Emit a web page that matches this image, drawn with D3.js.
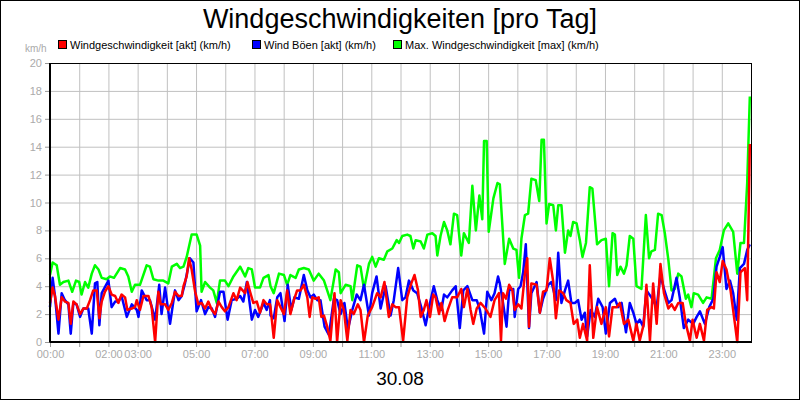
<!DOCTYPE html>
<html><head><meta charset="utf-8">
<script src="https://cdn.jsdelivr.net/npm/d3@7"></script>
<style>body{margin:0;background:#fff}svg{display:block;font-family:"Liberation Sans",Arial,sans-serif}</style>
</head><body><div id="chart"></div>
<script>
// [Stunde, km/h]
var gruen = [[0,4.8],[0.09,5.7],[0.23,5.5],[0.34,4.1],[0.46,4.3],[0.63,4.4],[0.76,3.6],[0.89,4.4],[1.00,4.3],[1.08,3.4],[1.20,4.3],[1.31,3.9],[1.43,4.9],[1.54,5.5],[1.66,5.2],[1.77,4.6],[1.94,4.5],[2.05,4.7],[2.19,4.6],[2.40,5.3],[2.57,5.2],[2.68,4.7],[2.80,3.6],[2.91,4.1],[3.08,4.1],[3.31,5.5],[3.42,5.4],[3.54,4.5],[3.71,4.4],[3.88,4.4],[4.05,4.2],[4.17,5.4],[4.34,5.6],[4.45,5.3],[4.57,5.4],[4.68,6.1],[4.85,7.7],[5.02,7.7],[5.14,6.9],[5.19,3.6],[5.31,4.3],[5.48,3.9],[5.59,3.7],[5.71,2.8],[5.82,4.4],[5.99,4.4],[6.11,4.0],[6.28,4.7],[6.51,5.4],[6.68,4.7],[6.79,5.3],[6.91,5.2],[7.02,3.9],[7.19,3.9],[7.31,4.6],[7.48,4.8],
  [7.55,4.0],[7.66,3.5],[7.84,4.9],[8.01,4.8],[8.12,4.1],[8.23,4.8],[8.41,4.6],[8.52,5.2],[8.69,5.3],[8.86,5.2],[9.03,4.4],[9.20,4.9],[9.38,4.4],[9.60,3.0],[9.78,5.2],[9.89,5.0],[9.95,3.5],[10.12,4.1],[10.29,4.0],[10.35,3.0],[10.52,5.5],[10.63,5.4],[10.75,3.8],[10.92,5.6],[11.03,6.1],[11.15,5.4],[11.26,6.0],[11.43,5.9],[11.55,6.5],[11.72,6.7],[11.87,7.3],[11.95,7.1],[12.06,7.6],[12.23,7.7],[12.34,7.6],[12.44,6.7],[12.52,7.3],[12.69,7.2],[12.80,6.7],[12.92,7.7],[13.09,7.8],[13.20,7.6],[13.26,6.2],[13.37,7.6],[13.49,8.6],[13.60,8.0],[13.71,7.0],[13.83,9.2],[13.94,9.1],[14.08,6.2],[14.17,7.8],[14.34,7.1],[14.46,11.2],[14.58,8.0],[14.70,10.5],[14.80,8.8],[14.86,14.4],[14.95,14.4],[15.02,7.9],[15.18,10.3],[15.32,11.4],
  [15.40,11.3],[15.57,5.6],[15.72,7.4],[15.86,6.7],[15.97,6.6],[16.06,4.6],[16.14,7.4],[16.26,9.1],[16.37,9.2],[16.48,11.7],[16.63,11.6],[16.75,10.1],[16.83,14.5],[16.91,14.5],[17.00,8.5],[17.09,9.9],[17.23,9.8],[17.32,8.0],[17.40,9.8],[17.51,9.8],[17.63,6.4],[17.74,8.0],[17.82,7.6],[17.91,8.6],[18.03,8.5],[18.14,7.3],[18.23,6.1],[18.35,7.1],[18.48,11.1],[18.57,11.0],[18.73,7.0],[18.88,7.3],[19.03,7.4],[19.14,4.0],[19.26,7.8],[19.34,7.7],[19.42,4.8],[19.53,5.4],[19.65,4.9],[19.74,5.5],[19.85,7.6],[19.97,7.4],[20.08,4.0],[20.25,3.8],[20.40,9.1],[20.51,6.0],[20.59,6.5],[20.71,6.6],[20.82,9.2],[20.94,9.1],[21.05,7.8],[21.17,5.9],[21.28,3.7],[21.39,3.8],[21.51,4.9],[21.62,4.7],[21.77,3.1],[21.85,3.4],[21.96,2.5],[22.04,3.5],[22.19,3.4],[22.36,2.8],[22.48,3.2],[22.65,3.1],[22.80,6.0],[22.93,6.6],[23.07,8.0],[23.22,8.5],[23.39,7.9],[23.53,4.9],[23.64,7.1],[23.76,7.1],[23.87,11.4],[23.96,17.6]];

var blau = [[0,2.5],[0.09,4.6],[0.17,3.3],[0.29,0.6],[0.40,3.5],[0.51,3.0],[0.63,2.7],[0.71,0.6],[0.80,2.8],[0.91,2.7],[1.03,1.8],[1.14,2.4],[1.31,2.4],[1.43,0.6],[1.54,4.2],[1.62,4.3],[1.69,1.2],[1.77,3.5],[2.00,4.4],[2.11,2.5],[2.23,2.9],[2.34,2.9],[2.45,3.3],[2.63,1.8],[2.80,2.7],[2.97,2.3],[3.03,1.8],[3.14,3.7],[3.31,3.0],[3.42,3.0],[3.60,1.6],[3.74,4.1],[3.82,2.0],[3.94,3.9],[4.11,1.3],[4.28,3.7],[4.40,3.0],[4.51,3.3],[4.62,4.2],[4.79,6.0],[4.91,5.7],[5.02,2.2],[5.17,3.0],[5.31,2.0],[5.42,2.5],[5.54,2.4],[5.65,1.8],[5.82,3.6],[5.94,3.6],[6.08,1.6],[6.22,3.0],[6.39,3.1],[6.51,3.3],[6.62,2.9],[6.74,4.3],[6.91,1.6],[7.02,2.3],[7.13,1.8],[7.31,2.8],[7.42,2.3],[7.53,3.0],
  [7.55,1.9],[7.66,1.7],[7.78,3.2],[7.89,3.5],[8.03,1.5],[8.14,4.1],[8.26,2.3],[8.37,3.2],[8.52,3.1],[8.69,4.8],[8.81,3.7],[8.92,3.2],[9.03,3.4],[9.15,3.0],[9.26,3.0],[9.40,1.1],[9.55,0.5],[9.72,3.1],[9.83,3.0],[9.95,2.0],[10.08,2.8],[10.20,0.9],[10.35,2.3],[10.50,3.4],[10.63,3.0],[10.75,4.1],[10.92,1.9],[11.03,3.5],[11.18,4.7],[11.32,2.4],[11.49,4.0],[11.66,1.9],[11.77,3.0],[11.92,5.3],[12.06,3.0],[12.17,3.2],[12.29,4.4],[12.44,3.7],[12.57,3.5],[12.71,2.5],[12.86,1.2],[13.01,2.8],[13.14,4.0],[13.26,3.0],[13.40,2.3],[13.49,3.4],[13.60,3.2],[13.77,3.7],[13.89,4.0],[14.03,1.0],[14.15,3.7],[14.29,4.0],[14.46,3.0],[14.61,3.0],[14.72,2.3],[14.86,0.6],[14.97,3.6],[15.11,3.0],[15.22,3.5],[15.34,4.7],[15.40,4.2],
  [15.51,2.8],[15.63,1.1],[15.72,3.7],[15.86,3.8],[15.91,1.8],[16.03,3.8],[16.11,4.0],[16.20,5.0],[16.29,7.0],[16.40,1.0],[16.48,3.5],[16.66,4.3],[16.77,2.1],[16.88,3.1],[17.06,4.1],[17.17,4.3],[17.32,3.0],[17.40,6.4],[17.51,2.8],[17.63,3.7],[17.74,4.4],[17.85,2.8],[17.97,2.8],[18.08,3.0],[18.20,1.6],[18.31,2.1],[18.39,0.4],[18.51,2.3],[18.65,1.8],[18.77,3.1],[18.92,2.5],[19.03,0.6],[19.17,2.8],[19.34,3.1],[19.45,2.5],[19.57,2.8],[19.72,0.7],[19.85,2.8],[19.97,2.1],[20.08,1.3],[20.19,1.6],[20.31,1.1],[20.42,3.7],[20.59,3.2],[20.77,2.5],[20.90,4.8],[21.02,3.8],[21.17,2.8],[21.28,3.0],[21.45,4.6],[21.56,3.2],[21.70,1.0],[21.85,1.6],[22.02,1.3],[22.14,1.8],[22.25,2.2],[22.42,1.3],[22.57,2.5],[22.71,3.1],[22.82,5.4],[22.93,6.1],[23.03,6.8],[23.16,3.8],[23.28,4.4],[23.39,3.5],[23.51,1.6],[23.62,5.3],[23.76,5.6],[23.87,6.6],[23.96,7.0]];

var rot = [[0,2.8],[0.09,3.9],[0.17,3.3],[0.29,1.6],[0.40,3.2],[0.51,2.9],[0.63,2.8],[0.71,1.3],[0.80,2.9],[0.91,2.7],[1.03,2.0],[1.14,2.4],[1.26,2.4],[1.37,3.0],[1.48,3.7],[1.60,3.7],[1.69,1.7],[1.77,2.9],[1.88,3.6],[2.00,4.0],[2.11,3.4],[2.23,3.3],[2.34,2.8],[2.45,3.4],[2.57,3.2],[2.65,2.3],[2.80,2.4],[2.91,2.5],[2.97,3.0],[3.08,2.3],[3.20,3.3],[3.37,3.3],[3.48,2.5],[3.60,0],[3.71,3.6],[3.79,2.7],[3.94,2.7],[4.05,2.3],[4.17,2.8],[4.28,3.6],[4.40,3.3],[4.51,3.3],[4.57,4.0],[4.68,4.7],[4.76,6.0],[4.85,5.2],[4.97,3.6],[5.08,2.7],[5.19,2.8],[5.31,2.4],[5.42,2.9],[5.54,2.3],[5.65,2.0],[5.77,2.9],[5.88,2.5],[5.99,2.2],[6.11,2.5],[6.28,3.5],[6.39,3.0],[6.51,3.9],[6.68,3.5],[6.76,4.3],[6.85,3.6],[6.96,2.8],[7.08,2.9],[7.19,2.1],[7.31,3.0],[7.42,2.7],[7.53,2.7],
  [7.55,2.5],[7.66,0.3],[7.78,3.0],[7.89,2.5],[8.01,2.0],[8.12,3.7],[8.23,2.0],[8.35,3.0],[8.46,3.7],[8.58,3.7],[8.69,4.1],[8.81,3.2],[8.89,1.8],[8.98,3.2],[9.09,3.1],[9.20,3.2],[9.29,1.8],[9.38,1.9],[9.49,1.1],[9.60,0.1],[9.74,3.5],[9.83,0],[9.95,3.0],[10.06,2.3],[10.18,0.1],[10.29,2.3],[10.40,2.0],[10.54,2.7],[10.63,2.3],[10.75,0],[10.88,1.9],[11.03,2.5],[11.20,3.5],[11.32,3.2],[11.45,4.3],[11.60,1.8],[11.72,2.7],[11.83,2.5],[11.95,2.5],[12.09,0.1],[12.23,3.2],[12.37,4.2],[12.48,4.8],[12.60,3.7],[12.69,1.8],[12.80,2.3],[12.89,3.0],[13.01,1.8],[13.12,3.4],[13.20,3.2],[13.32,2.0],[13.40,2.8],[13.51,1.5],[13.62,2.3],[13.77,3.2],[13.94,3.2],[14.08,3.8],[14.17,2.5],[14.29,3.8],[14.40,2.3],[14.49,1.3],[14.61,2.4],[14.74,2.8],[14.91,2.4],[15.08,1.8],[15.22,3.0],[15.37,3.5],[15.44,0.1],
  [15.51,3.5],[15.61,3.1],[15.72,4.1],[15.83,3.7],[15.91,2.3],[16.03,2.7],[16.14,2.4],[16.26,4.9],[16.34,6.0],[16.40,1.1],[16.48,4.2],[16.66,4.1],[16.77,2.1],[16.88,3.6],[17.00,3.7],[17.11,6.0],[17.23,4.3],[17.32,1.7],[17.43,3.7],[17.57,3.5],[17.68,3.0],[17.82,2.8],[17.93,1.3],[18.05,1.6],[18.14,0.3],[18.25,1.3],[18.39,0.1],[18.48,5.5],[18.60,0.3],[18.73,2.5],[18.88,1.3],[19.03,2.5],[19.14,0.4],[19.26,2.5],[19.40,2.5],[19.51,2.8],[19.65,1.3],[19.80,1.6],[19.97,0.1],[20.08,1.3],[20.19,0.1],[20.33,1.3],[20.42,4.1],[20.54,0.1],[20.65,4.2],[20.77,1.3],[20.90,5.6],[21.02,3.5],[21.17,2.4],[21.28,2.7],[21.39,2.3],[21.51,2.8],[21.66,2.8],[21.77,1.3],[21.91,0.1],[22.00,1.6],[22.14,0.3],[22.25,1.3],[22.39,0.1],[22.50,2.3],[22.65,2.5],[22.73,2.4],[22.82,5.0],[22.93,4.3],[23.03,5.8],[23.16,5.2],[23.30,3.7],[23.45,1.3],[23.53,0],[23.64,5.0],[23.79,5.3],[23.87,3.0],[23.96,14.2]];

var xTickLabels = {0:"00:00",2:"02:00",3:"03:00",5:"05:00",7:"07:00",9:"09:00",11:"11:00",13:"13:00",15:"15:00",17:"17:00",19:"19:00",21:"21:00",23:"23:00"};
var yTicks = [0,2,4,6,8,10,12,14,16,18,20];
var legende = [["Windgeschwindigkeit [akt] (km/h)","#ff0000"],["Wind Böen [akt] (km/h)","#0000ff"],["Max. Windgeschwindigkeit [max] (km/h)","#00ff00"]];

var W = 800, H = 400,
    margin = {top: 63, right: 49, bottom: 58, left: 50},
    width = W - margin.left - margin.right,
    height = H - margin.top - margin.bottom;

var svg = d3.select("#chart").append("svg").attr("width", W).attr("height", H);
svg.append("rect").attr("x", 0.5).attr("y", 0.5).attr("width", W - 1).attr("height", H - 1)
  .attr("fill", "#fff").attr("stroke", "#000");

var x = d3.scaleLinear().domain([0, 24]).range([0, width]),
    y = d3.scaleLinear().domain([0, 20]).range([height, 0]);

var g = svg.append("g").attr("transform", "translate(" + margin.left + "," + margin.top + ")");

// Gitter
g.selectAll(".vg").data(d3.range(1, 24)).join("line")
  .attr("x1", d => x(d) + 0.5).attr("x2", d => x(d) + 0.5).attr("y1", 0).attr("y2", height)
  .attr("stroke", "#c0c0c0");
g.selectAll(".hg").data(yTicks.slice(1, -1)).join("line")
  .attr("y1", d => y(d) + 0.5).attr("y2", d => y(d) + 0.5).attr("x1", 0).attr("x2", width)
  .attr("stroke", "#c0c0c0");

// Achsen
var xa = g.append("g").attr("transform", "translate(0," + height + ")")
  .call(d3.axisBottom(x).tickValues(d3.range(0, 24)).tickSize(5).tickPadding(3)
    .tickFormat(d => xTickLabels[d] || ""));
var ya = g.append("g")
  .call(d3.axisLeft(y).tickValues(yTicks).tickSize(5).tickPadding(3));
[xa, ya].forEach(function (a) {
  a.select(".domain").remove();
  a.selectAll("line").attr("stroke", "#999");
  a.selectAll("text").attr("fill", "#aaa").style("font-size", "11px").style("font-family", "Liberation Sans, Arial");
});

var linie = d3.line().x(d => x(d[0])).y(d => y(d[1]));
[[gruen, "#00ff00"], [blau, "#0000ff"], [rot, "#ff0000"]].forEach(function (s) {
  g.append("path").datum(s[0]).attr("fill", "none").attr("stroke", s[1])
    .attr("stroke-width", 2.5).attr("stroke-linejoin", "round").attr("d", linie);
});

g.append("rect").attr("x", 0).attr("y", 0.5).attr("width", width + 0.5).attr("height", height)
  .attr("fill", "none").attr("stroke", "#000").attr("stroke-width", 1);
g.append("line").attr("x1", 0).attr("x2", width).attr("y1", height).attr("y2", height)
  .attr("stroke", "#000").attr("stroke-width", 2);
g.append("line").attr("x1", 0).attr("x2", 0).attr("y1", 0).attr("y2", height)
  .attr("stroke", "#000").attr("stroke-width", 2);

// Texte
svg.append("text").attr("x", 400).attr("y", 28).attr("text-anchor", "middle")
  .style("font-size", "27px").text("Windgeschwindigkeiten [pro Tag]");
svg.append("text").attr("x", 400).attr("y", 385).attr("text-anchor", "middle")
  .style("font-size", "19px").text("30.08");
svg.append("text").attr("x", 25).attr("y", 52).attr("fill", "#aaa")
  .style("font-size", "10px").text("km/h");

var legX = [58, 252, 393];
var lg = svg.selectAll(".leg").data(legende).join("g")
  .attr("transform", (d, i) => "translate(" + legX[i] + ",40)");
lg.append("rect").attr("x", 0.5).attr("y", 0.5).attr("width", 8).attr("height", 8)
  .attr("fill", d => d[1]).attr("stroke", "#000");
lg.append("text").attr("x", 12).attr("y", 8.5).style("font-size", "11px").text(d => d[0]);
</script>
</body></html>
